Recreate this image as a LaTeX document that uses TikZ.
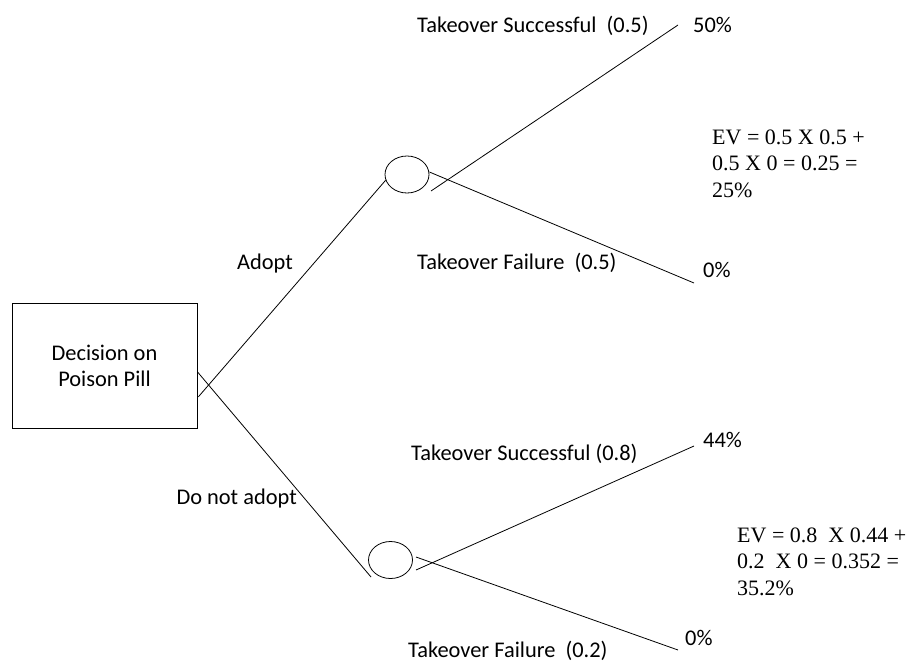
\documentclass[tikz,border=0pt]{standalone}
\usepackage{fontspec}
\setmainfont{Carlito}
\newfontfamily\evfont{Liberation Serif}
\usetikzlibrary{shapes.geometric,calc}
\begin{document}
\begin{tikzpicture}[x=1pt,y=-1pt,
  conn/.style={line width=0.8pt},
  lbl/.style={inner sep=0pt, anchor=base west, font=\fontsize{22.4}{26}\selectfont},
  evtext/.style={inner sep=0pt, anchor=base west, font=\evfont\fontsize{22}{26.5}\selectfont, align=left},
  chance/.style={ellipse, draw, line width=0.8pt, minimum width=44pt, minimum height=37pt, inner sep=0pt},
  decision/.style={rectangle, draw, line width=0.8pt, minimum width=185pt, minimum height=125pt, inner sep=0pt, align=center, font=\fontsize{22.4}{25.5}\selectfont}]
\useasboundingbox (0,0) rectangle (912,662);
% nodes
\node[decision] (box) at (104.5,365.8) {Decision on\\Poison Pill};
\node[chance] (c1) at (407,174.5) {};
\node[chance] (c2) at (390.5,560) {};
% free ends / offset ends
\coordinate (adS) at ($(box.east)+(1,31)$);
\coordinate (dnS) at ($(box.east)+(0,6)$);
\coordinate (dnE) at ($(c2.center)+(-19.5,17)$);
\coordinate (s1S) at ($(c1.center)+(24,16.5)$);
\coordinate (f1S) at ($(c1.east)+(0,-2.5)$);
\coordinate (s2S) at ($(c2.center)+(25.5,10)$);
\coordinate (f2S) at ($(c2.center)+(25.5,-3)$);
\coordinate (s1E) at (678,25);
\coordinate (f1E) at (694,283);
\coordinate (s2E) at (694,446);
\coordinate (f2E) at (678,650);
% connectors
\draw[conn] (adS) -- (c1.195);
\draw[conn] (dnS) -- (dnE);
\draw[conn] (s1S) -- (s1E);
\draw[conn] (f1S) -- (f1E);
\draw[conn] (s2S) -- (s2E);
\draw[conn] (f2S) -- (f2E);
% labels
\node[lbl] (ts1) at (417,32) {Takeover Successful\ \ (0.5)};
\node[lbl] (v1) at (693,32) {50\%};
\node[lbl] (ad) at (237,269) {Adopt};
\node[lbl] (tf1) at (417,269) {Takeover Failure\ \ (0.5)};
\node[lbl] (v2) at (703,277) {0\%};
\node[lbl] (ts2) at (411,460) {Takeover Successful (0.8)};
\node[lbl] (v3) at (703,447) {44\%};
\node[lbl, anchor=base east] (dna) at (297,504) {Do not adopt};
\node[lbl] (tf2) at (408,657) {Takeover Failure\ \ (0.2)};
\node[lbl] (v4) at (685,645) {0\%};
\node[evtext] (ev1) at (712,197) {EV = 0.5 X 0.5 +\\0.5 X 0 = 0.25 =\\25\%};
\node[evtext] (ev2) at (737,595) {EV = 0.8\ \ X 0.44 +\\0.2\ \ X 0 = 0.352 =\\35.2\%};
\end{tikzpicture}
\end{document}
